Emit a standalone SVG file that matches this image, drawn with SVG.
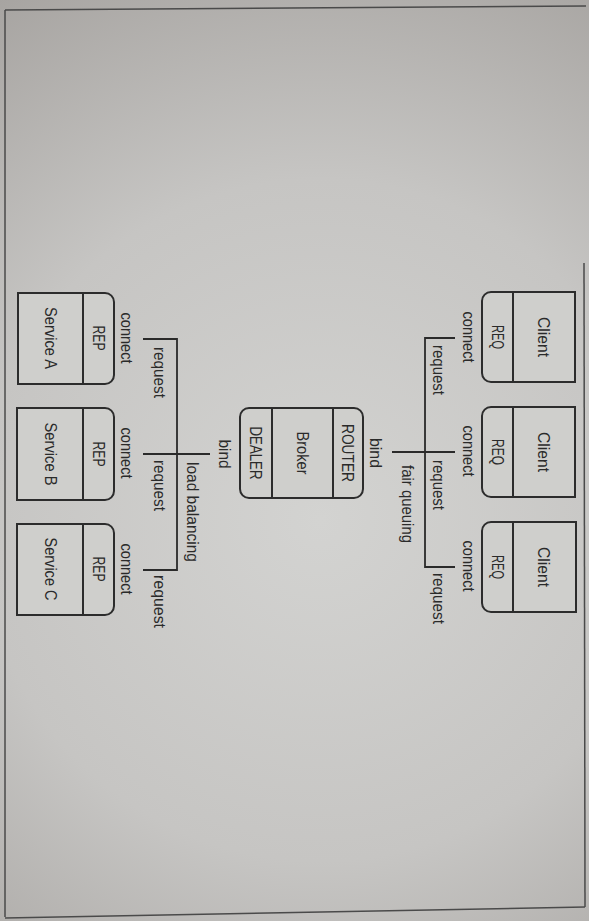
<svg xmlns="http://www.w3.org/2000/svg" width="589" height="921" viewBox="0 0 589 921">
  <defs>
    <radialGradient id="bg" cx="320" cy="520" r="620" gradientUnits="userSpaceOnUse">
      <stop offset="0" stop-color="#d3d3d1"/>
      <stop offset="0.55" stop-color="#c6c5c3"/>
      <stop offset="1" stop-color="#a6a3a0"/>
    </radialGradient>
    <style>
      .box { fill: #cfcfcc; stroke: #2c2c2c; stroke-width: 2; }
      .div { stroke: #2c2c2c; stroke-width: 2; fill: none; }
      .wire { stroke: #2a2a2a; stroke-width: 1.8; fill: none; }
      .page { stroke: #4a4a4a; stroke-width: 1.5; fill: none; }
      text { font-family: "Liberation Sans Narrow", "Liberation Sans", Arial, sans-serif; font-size: 17px; fill: #2a2a2a; }
      .c { text-anchor: middle; }
    </style>
  </defs>

  <rect x="0" y="0" width="589" height="921" fill="url(#bg)"/>
  <path class="page" d="M5,10 L586,6"/>
  <path class="page" d="M5,10 L5,917"/>
  <path class="page" d="M5,918 L585,907"/>
  <path class="page" d="M584,263 L585,907"/>

  <g transform="translate(589,0) rotate(90)">
    <g id="connectors">
      <path class="wire" d="M338,134 V164 H567 V134"/>
      <path class="wire" d="M452,134 V197"/>
      <path class="wire" d="M339,446 V412 H570 V446"/>
      <path class="wire" d="M454,379 V446"/>
      <text x="337" y="126" class="c" textLength="51" lengthAdjust="spacingAndGlyphs">connect</text>
      <text x="451" y="126" class="c" textLength="51" lengthAdjust="spacingAndGlyphs">connect</text>
      <text x="566" y="126" class="c" textLength="51" lengthAdjust="spacingAndGlyphs">connect</text>
      <text x="345" y="156" textLength="50" lengthAdjust="spacingAndGlyphs">request</text>
      <text x="460" y="156" textLength="50" lengthAdjust="spacingAndGlyphs">request</text>
      <text x="573" y="156" textLength="51" lengthAdjust="spacingAndGlyphs">request</text>
      <text x="465" y="187" textLength="78" lengthAdjust="spacingAndGlyphs">fair queuing</text>
      <text x="453" y="219" class="c" textLength="30" lengthAdjust="spacingAndGlyphs">bind</text>
      <text x="454" y="370" class="c" textLength="29" lengthAdjust="spacingAndGlyphs">bind</text>
      <text x="462" y="402" textLength="100" lengthAdjust="spacingAndGlyphs">load balancing</text>
      <text x="347" y="435" textLength="51" lengthAdjust="spacingAndGlyphs">request</text>
      <text x="460" y="435" textLength="51" lengthAdjust="spacingAndGlyphs">request</text>
      <text x="575" y="435" textLength="53" lengthAdjust="spacingAndGlyphs">request</text>
      <text x="338" y="468" class="c" textLength="51" lengthAdjust="spacingAndGlyphs">connect</text>
      <text x="453" y="468" class="c" textLength="51" lengthAdjust="spacingAndGlyphs">connect</text>
      <text x="569" y="468" class="c" textLength="51" lengthAdjust="spacingAndGlyphs">connect</text>
    </g>

    <g id="client1">
      <path class="box" d="M292,14 H382 V98 A9,9 0 0 1 373,107 H301 A9,9 0 0 1 292,98 Z"/>
      <path class="div" d="M292,76 H382"/>
      <text x="337" y="51" class="c" textLength="40" lengthAdjust="spacingAndGlyphs">Client</text>
      <text x="337" y="97" class="c" textLength="24" lengthAdjust="spacingAndGlyphs">REQ</text>
    </g>
    <g id="client2">
      <path class="box" d="M407,14 H497 V98 A9,9 0 0 1 488,107 H416 A9,9 0 0 1 407,98 Z"/>
      <path class="div" d="M407,76 H497"/>
      <text x="452" y="51" class="c" textLength="40" lengthAdjust="spacingAndGlyphs">Client</text>
      <text x="452" y="97" class="c" textLength="26" lengthAdjust="spacingAndGlyphs">REQ</text>
    </g>
    <g id="client3">
      <path class="box" d="M522,13 H612 V98 A9,9 0 0 1 603,107 H531 A9,9 0 0 1 522,98 Z"/>
      <path class="div" d="M522,76 H612"/>
      <text x="567" y="51" class="c" textLength="40" lengthAdjust="spacingAndGlyphs">Client</text>
      <text x="567" y="97" class="c" textLength="24" lengthAdjust="spacingAndGlyphs">REQ</text>
    </g>

    <g id="broker">
      <path class="box" d="M417,226 H489 A9,9 0 0 1 498,235 V340 A9,9 0 0 1 489,349 H417 A9,9 0 0 1 408,340 V235 A9,9 0 0 1 417,226 Z"/>
      <path class="div" d="M408,256 H498 M408,317 H498"/>
      <text x="453" y="247" class="c" textLength="58" lengthAdjust="spacingAndGlyphs">ROUTER</text>
      <text x="453" y="292" class="c" textLength="43" lengthAdjust="spacingAndGlyphs">Broker</text>
      <text x="453" y="339" class="c" textLength="53" lengthAdjust="spacingAndGlyphs">DEALER</text>
    </g>

    <g id="serviceA">
      <path class="box" d="M302,475 H375 A9,9 0 0 1 384,484 V571 H293 V484 A9,9 0 0 1 302,475 Z"/>
      <path class="div" d="M293,506 H384"/>
      <text x="338" y="496" class="c" textLength="25" lengthAdjust="spacingAndGlyphs">REP</text>
      <text x="338" y="544" class="c" textLength="62" lengthAdjust="spacingAndGlyphs">Service A</text>
    </g>
    <g id="serviceB">
      <path class="box" d="M417,475 H491 A9,9 0 0 1 500,484 V572 H408 V484 A9,9 0 0 1 417,475 Z"/>
      <path class="div" d="M408,506 H500"/>
      <text x="454" y="496" class="c" textLength="25" lengthAdjust="spacingAndGlyphs">REP</text>
      <text x="454" y="544" class="c" textLength="63" lengthAdjust="spacingAndGlyphs">Service B</text>
    </g>
    <g id="serviceC">
      <path class="box" d="M533,475 H606 A9,9 0 0 1 615,484 V572 H524 V484 A9,9 0 0 1 533,475 Z"/>
      <path class="div" d="M524,506 H615"/>
      <text x="569" y="496" class="c" textLength="25" lengthAdjust="spacingAndGlyphs">REP</text>
      <text x="569" y="544" class="c" textLength="63" lengthAdjust="spacingAndGlyphs">Service C</text>
    </g>
  </g>
</svg>
